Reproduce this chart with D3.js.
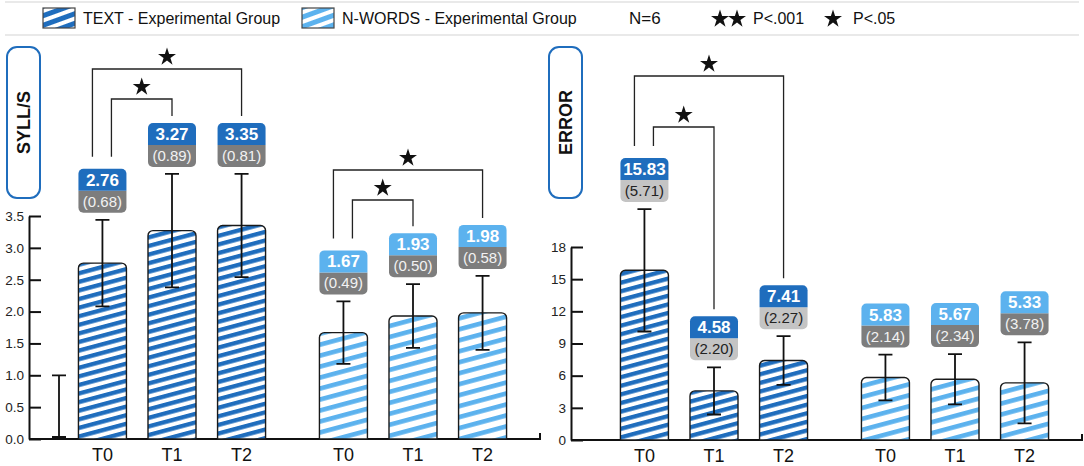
<!DOCTYPE html>
<html>
<head>
<meta charset="utf-8">
<script src="https://cdnjs.cloudflare.com/ajax/libs/d3/7.8.5/d3.min.js"></script>
<style>
  body { margin: 0; background: #fff; font-family: "Liberation Sans", Arial, sans-serif; }
</style>
</head>
<body>
<div id="grafico"></div>
<script>
// Dados (média e desvio padrão)
const grupos = ["TEXT", "N-WORDS"];
const tempos = ["T0", "T1", "T2"];
const syllTextMedia = [2.76, 3.27, 3.35];
const syllTextDP = [0.68, 0.89, 0.81];
const syllNwMedia = [1.67, 1.93, 1.98];
const syllNwDP = [0.49, 0.50, 0.58];
const errTextMedia = [15.83, 4.58, 7.41];
const errTextDP = [5.71, 2.20, 2.27];
const errNwMedia = [5.83, 5.67, 5.33];
const errNwDP = [2.14, 2.34, 3.78];
const syllTicks = [0, 0.5, 1, 1.5, 2, 2.5, 3, 3.5];
const errTicks = [0, 3, 6, 9, 12, 15, 18];
const sigPares = [[0, 1], [0, 2]]; // T0-T1 e T0-T2, p<.05
const syllSolto = [0, 1.0]; // barra de erro solta perto do eixo (está na figura original)

const azulEscuro = "#1f6dbd";
const azulClaro = "#5cb2ee";
const cinzaEscuro = "#7d7d7d";
const cinzaClaro = "#c4c4c4";

const width = 1084, height = 466;
const svg = d3.select("#grafico").append("svg")
    .attr("width", width)
    .attr("height", height);
const defs = svg.append("defs");

// Padrões listrados (diagonal subindo para a direita)
function padrao(id, cor, periodo, faixa, angulo) {
    const p = defs.append("pattern")
        .attr("id", id)
        .attr("patternUnits", "userSpaceOnUse")
        .attr("width", 20)
        .attr("height", periodo)
        .attr("patternTransform", `rotate(${angulo})`);
    p.append("rect").attr("width", 20).attr("height", periodo).attr("fill", "#fff");
    p.append("rect").attr("width", 20).attr("height", faixa).attr("fill", cor);
}
padrao("listra-escura", azulEscuro, 8.3, 4.3, -15);
padrao("listra-clara", azulClaro, 10.6, 4.6, -15);
padrao("leg-escura", azulEscuro, 9, 5, -20);
padrao("leg-clara", azulClaro, 9, 5, -20);

// Caminho de retângulo com cantos de cima (ou de baixo) arredondados
function retArred(x, y, w, h, r, cima, baixo) {
    const rt = cima ? r : 0, rb = baixo ? r : 0;
    return `M${x},${y + rt}` +
        (rt ? `A${rt},${rt} 0 0 1 ${x + rt},${y}` : "") +
        `L${x + w - rt},${y}` +
        (rt ? `A${rt},${rt} 0 0 1 ${x + w},${y + rt}` : "") +
        `L${x + w},${y + h - rb}` +
        (rb ? `A${rb},${rb} 0 0 1 ${x + w - rb},${y + h}` : "") +
        `L${x + rb},${y + h}` +
        (rb ? `A${rb},${rb} 0 0 1 ${x},${y + h - rb}` : "") +
        "Z";
}

// ---------- Legenda ----------
const leg = svg.append("g");
leg.selectAll(".sep").data([2, 35]).enter().append("line")
    .attr("x1", 5).attr("x2", 1079)
    .attr("y1", d => d).attr("y2", d => d)
    .attr("stroke", "#e2e2e2").attr("stroke-width", 1.5);

const itensLeg = [
    { x: 43, fill: "url(#leg-escura)", texto: "TEXT - Experimental Group" },
    { x: 302, fill: "url(#leg-clara)", texto: "N-WORDS - Experimental Group" }
];
itensLeg.forEach(it => {
    leg.append("rect").attr("x", it.x).attr("y", 8).attr("width", 32).attr("height", 20)
        .attr("fill", it.fill).attr("stroke", "#444").attr("stroke-width", 1.2);
    leg.append("text").attr("x", it.x + 40).attr("y", 24)
        .attr("font-size", 16).attr("fill", "#111").text(it.texto);
});
leg.append("text").attr("x", 629).attr("y", 24).attr("font-size", 17).attr("fill", "#111").text("N=6");
const estrela = d3.symbol(d3.symbolStar, 100);
[720, 737, 833].forEach(x => {
    leg.append("path").attr("d", estrela()).attr("transform", `translate(${x},19)`).attr("fill", "#111");
});
leg.append("text").attr("x", 753).attr("y", 24).attr("font-size", 16).attr("fill", "#111").text("P<.001");
leg.append("text").attr("x", 853).attr("y", 24).attr("font-size", 16).attr("fill", "#111").text("P<.05");

// ---------- Painéis ----------
const paineis = [
    {
        titulo: "SYLL/S", x0: 29, y0: 439, yTopo: 216, dominio: [0, 3.5],
        ticks: syllTicks, fmt: d3.format(".1f"), solto: syllSolto,
        series: [
            { grupo: "TEXT", media: syllTextMedia, dp: syllTextDP, listra: "url(#listra-escura)", cor: azulEscuro, dpClaro: false, sig: sigPares, niveis: [99, 69] },
            { grupo: "N-WORDS", media: syllNwMedia, dp: syllNwDP, listra: "url(#listra-clara)", cor: azulClaro, dpClaro: false, sig: sigPares, niveis: [200, 170] }
        ]
    },
    {
        titulo: "ERROR", x0: 571, y0: 440, yTopo: 247, dominio: [0, 18],
        ticks: errTicks, fmt: d3.format("d"), solto: null,
        series: [
            { grupo: "TEXT", media: errTextMedia, dp: errTextDP, listra: "url(#listra-escura)", cor: azulEscuro, dpClaro: true, sig: sigPares, niveis: [127, 76] },
            { grupo: "N-WORDS", media: errNwMedia, dp: errNwDP, listra: "url(#listra-clara)", cor: azulClaro, dpClaro: false, sig: [], niveis: [] }
        ]
    }
];

paineis.forEach(desenharPainel);

function desenharPainel(p) {
    const g = svg.append("g");
    const y = d3.scaleLinear().domain(p.dominio).range([p.y0, p.yTopo]);
    const xGrupo = d3.scalePoint().domain(grupos).range([p.x0 + 143, p.x0 + 384]);
    const xTempo = d3.scaleBand().domain(tempos).range([-104, 104])
        .paddingInner(0.31).paddingOuter(0.15);
    const bw = xTempo.bandwidth();

    // Caixa com o nome da medida
    const caixa = g.append("g").attr("transform", `translate(${p.x0 - 22},47)`);
    caixa.append("rect").attr("width", 33).attr("height", 151).attr("rx", 10)
        .attr("fill", "#fff").attr("stroke", azulEscuro).attr("stroke-width", 2);
    caixa.append("text")
        .attr("transform", "translate(23,75.5) rotate(-90)")
        .attr("text-anchor", "middle")
        .attr("font-size", 18).attr("font-weight", "bold").attr("fill", "#111")
        .text(p.titulo);

    // Eixo Y (ticks para dentro)
    const eixo = g.append("g")
        .attr("transform", `translate(${p.x0},0)`)
        .call(d3.axisLeft(y).tickValues(p.ticks).tickFormat(p.fmt)
            .tickSize(-12).tickSizeOuter(0).tickPadding(5));
    eixo.select(".domain").attr("stroke", "#111").attr("stroke-width", 2);
    eixo.selectAll(".tick line").attr("stroke", "#111").attr("stroke-width", 2);
    eixo.selectAll(".tick text").attr("font-size", 13.5).attr("fill", "#222")
        .attr("font-family", "Liberation Sans, Arial, sans-serif");

    // Linha de base
    g.append("path")
        .attr("d", `M${p.x0},${p.y0}H${p.x0 + 511}V${p.y0 - 6}`)
        .attr("fill", "none").attr("stroke", "#111").attr("stroke-width", 2);

    // Barra de erro solta
    if (p.solto) {
        const xs = p.x0 + 30;
        desenharErro(g, xs, y(p.solto[0]) - 2, y(p.solto[1]));
    }

    p.series.forEach(s => {
        const dados = tempos.map((t, i) => ({
            t, media: s.media[i], dp: s.dp[i],
            cx: xGrupo(s.grupo) + xTempo(t) + bw / 2
        }));

        // Barras
        g.selectAll(null).data(dados).enter().append("path")
            .attr("d", d => retArred(d.cx - bw / 2, y(d.media), bw, p.y0 - y(d.media), 5, true, false))
            .attr("fill", s.listra)
            .attr("stroke", "#1a1a1a").attr("stroke-width", 1.4);

        // Barras de erro (média ± DP)
        dados.forEach(d => desenharErro(g, d.cx, y(d.media - d.dp), y(d.media + d.dp)));

        // Caixas de valor
        dados.forEach(d => {
            const base = y(d.media + d.dp) - 7;
            const topo = base - 44;
            d.topoCaixa = topo;
            const x = d.cx - bw / 2;
            g.append("path").attr("d", retArred(x, topo + 22, bw, 22, 5, false, true))
                .attr("fill", s.dpClaro ? cinzaClaro : cinzaEscuro);
            g.append("path").attr("d", retArred(x, topo, bw, 22, 5, true, false))
                .attr("fill", s.cor);
            g.append("text").attr("x", d.cx).attr("y", topo + 17)
                .attr("text-anchor", "middle").attr("font-size", 17).attr("font-weight", "bold")
                .attr("fill", "#fff").text(d.media.toFixed(2));
            g.append("text").attr("x", d.cx).attr("y", topo + 38)
                .attr("text-anchor", "middle").attr("font-size", 15)
                .attr("fill", s.dpClaro ? "#222" : "#f2f2f2").text(`(${d.dp.toFixed(2)})`);
        });

        // Rótulos do eixo X
        g.selectAll(null).data(dados).enter().append("text")
            .attr("x", d => d.cx).attr("y", p.y0 + 22)
            .attr("text-anchor", "middle").attr("font-size", 18).attr("fill", "#111")
            .text(d => d.t);

        // Colchetes de significância (o de dentro primeiro)
        s.sig.forEach((par, k) => {
            const a = dados[par[0]], b = dados[par[1]];
            const nivel = s.niveis[k];
            const xa = a.cx + (k === 0 ? 9 : -10);
            const xb = b.cx;
            g.append("path")
                .attr("d", `M${xa},${a.topoCaixa - 12}V${nivel}H${xb}V${b.topoCaixa - 7}`)
                .attr("fill", "none").attr("stroke", "#222").attr("stroke-width", 1.3);
            g.append("path").attr("d", estrela())
                .attr("transform", `translate(${(xa + xb) / 2},${nivel - 12})`)
                .attr("fill", "#111");
        });
    });
}

function desenharErro(g, cx, yBaixo, yAlto) {
    g.append("path")
        .attr("d", `M${cx},${yBaixo}V${yAlto}M${cx - 7},${yAlto}H${cx + 7}M${cx - 7},${yBaixo}H${cx + 7}`)
        .attr("fill", "none").attr("stroke", "#111").attr("stroke-width", 1.8);
}
</script>
</body>
</html>
